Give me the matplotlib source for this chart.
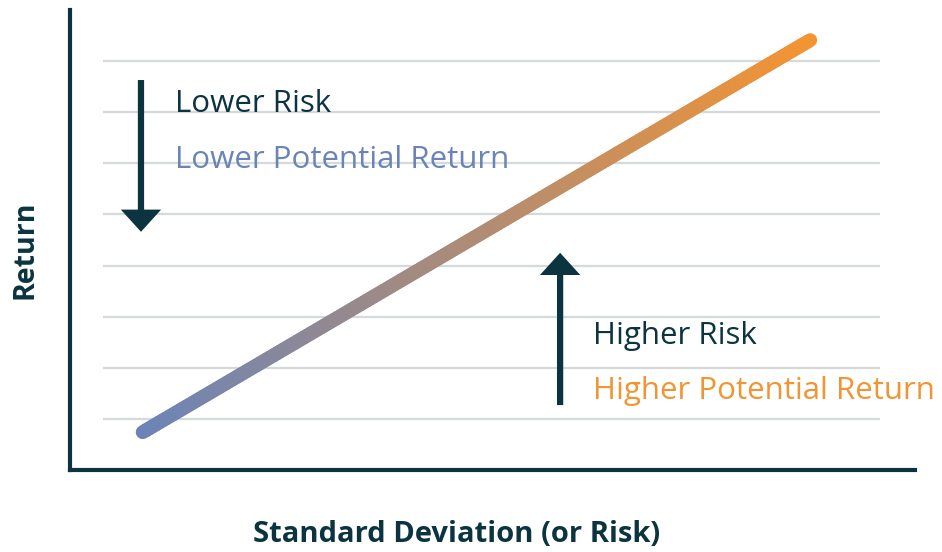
import numpy as np
from matplotlib import pyplot as plt
from matplotlib.collections import LineCollection
from matplotlib.colors import to_rgb
from matplotlib.patches import FancyArrowPatch

plt.rcParams['font.family'] = ['Open Sans', 'DejaVu Sans']

# risk / return line (x = risk, y = return)
line_x = [0.86, 8.76]
line_y = [0.74, 8.41]
grid_levels = [1, 2, 3, 4, 5, 6, 7, 8]

# arrows: (x, y_start, y_end)
arrow_down = (0.84, 7.63, 4.66)
arrow_up = (5.80, 1.27, 4.25)

labels_low = ["Lower Risk", "Lower Potential Return"]
labels_high = ["Higher Risk", "Higher Potential Return"]

navy = "#0b3440"
blue = "#6b84b8"
orange = "#f39433"
grid_col = "#d3dadc"

fig = plt.figure(figsize=(9.42, 5.52), dpi=100)
ax = fig.add_axes([70 / 942, 82 / 552, 845 / 942, 460 / 552])
ax.set_xlim(0, 10)
ax.set_ylim(0, 9)

# gridlines
ax.hlines(grid_levels, 0.39, 9.59, color=grid_col, lw=1.6, zorder=1)

# gradient line
n = 200
xs = np.linspace(line_x[0], line_x[1], n)
ys = np.linspace(line_y[0], line_y[1], n)
pts = np.column_stack([xs, ys]).reshape(-1, 1, 2)
segs = np.concatenate([pts[:-1], pts[1:]], axis=1)
c0, c1 = np.array(to_rgb(blue)), np.array(to_rgb(orange))
t = np.linspace(0, 1, n - 1)[:, None]
cols = c0 * (1 - t) + c1 * t
lc = LineCollection(segs, colors=cols, linewidths=10, capstyle='round', zorder=3)
ax.add_collection(lc)

# arrows
for ax_x, y0, y1 in [arrow_down, arrow_up]:
    arr = FancyArrowPatch((ax_x, y0), (ax_x, y1),
                          arrowstyle="simple,head_width=2.9,head_length=1.6,tail_width=0.45",
                          mutation_scale=10, color=navy, shrinkA=0, shrinkB=0, lw=0, zorder=4)
    ax.add_patch(arr)

# annotations
fs = 22.5
ax.text(1.24, 7.00, labels_low[0], color=navy, fontsize=fs, va='baseline', ha='left')
ax.text(1.24, 5.91, labels_low[1], color=blue, fontsize=fs, va='baseline', ha='left')
ax.text(6.19, 2.47, labels_high[0], color=navy, fontsize=fs, va='baseline', ha='left')
ax.text(6.19, 1.39, labels_high[1], color=orange, fontsize=fs, va='baseline', ha='left')

# axes styling
for s in ['top', 'right']:
    ax.spines[s].set_visible(False)
for s in ['left', 'bottom']:
    ax.spines[s].set_color(navy)
    ax.spines[s].set_linewidth(3)
ax.set_xticks([])
ax.set_yticks([])

fig.text(25 / 942, 1 - 250 / 552, "Return", rotation=90, ha='center', va='center',
         color=navy, fontsize=20.5, fontweight='bold')
fig.text(457 / 942, 1 - 535 / 552, "Standard Deviation (or Risk)", ha='center', va='center',
         color=navy, fontsize=21, fontweight='bold')

fig.savefig("out.png", dpi=100)
